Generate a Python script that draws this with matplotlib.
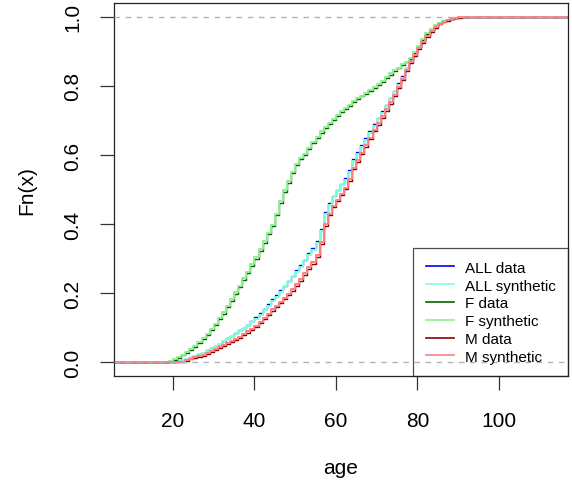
import numpy as np
import matplotlib
matplotlib.use('Agg')
from matplotlib import pyplot as plt

# ages where the empirical CDFs step (one step per year)
ages = list(range(18, 96))

# ALL data / ALL synthetic
all_data = [0.000, 0.001, 0.002, 0.003, 0.005, 0.009, 0.014, 0.019, 0.023, 0.028,
            0.034, 0.040, 0.047, 0.054, 0.062, 0.069, 0.077, 0.084, 0.092, 0.100,
            0.109, 0.119, 0.130, 0.142, 0.155, 0.168, 0.182, 0.195, 0.209, 0.222,
            0.236, 0.251, 0.266, 0.280, 0.297, 0.315, 0.330, 0.350, 0.386, 0.434,
            0.462, 0.482, 0.500, 0.517, 0.533, 0.557, 0.587, 0.608, 0.628, 0.648,
            0.669, 0.689, 0.708, 0.727, 0.746, 0.766, 0.786, 0.808, 0.828, 0.852,
            0.874, 0.894, 0.913, 0.931, 0.948, 0.961, 0.972, 0.981, 0.987, 0.992,
            0.995, 0.997, 0.999, 1.000, 1.000, 1.000, 1.000, 1.000]
all_syn = [0.000, 0.001, 0.001, 0.002, 0.004, 0.008, 0.013, 0.018, 0.021, 0.026,
           0.032, 0.038, 0.045, 0.052, 0.060, 0.067, 0.074, 0.081, 0.089, 0.097,
           0.106, 0.116, 0.126, 0.138, 0.151, 0.164, 0.178, 0.190, 0.204, 0.217,
           0.231, 0.246, 0.261, 0.275, 0.292, 0.310, 0.325, 0.344, 0.380, 0.428,
           0.456, 0.477, 0.495, 0.512, 0.528, 0.552, 0.582, 0.603, 0.623, 0.643,
           0.664, 0.684, 0.703, 0.722, 0.741, 0.761, 0.781, 0.804, 0.824, 0.848,
           0.871, 0.891, 0.910, 0.929, 0.946, 0.959, 0.970, 0.980, 0.986, 0.991,
           0.994, 0.997, 0.999, 1.000, 1.000, 1.000, 1.000, 1.000]

# F data / F synthetic
f_data = [0.000, 0.003, 0.007, 0.013, 0.020, 0.028, 0.036, 0.045, 0.055, 0.067,
          0.080, 0.093, 0.108, 0.124, 0.141, 0.159, 0.178, 0.198, 0.218, 0.238,
          0.258, 0.279, 0.300, 0.322, 0.346, 0.370, 0.394, 0.425, 0.462, 0.493,
          0.520, 0.547, 0.571, 0.587, 0.600, 0.616, 0.634, 0.649, 0.665, 0.678,
          0.690, 0.702, 0.713, 0.724, 0.733, 0.743, 0.753, 0.762, 0.770, 0.777,
          0.786, 0.795, 0.803, 0.812, 0.823, 0.833, 0.843, 0.851, 0.860, 0.868,
          0.879, 0.895, 0.912, 0.932, 0.950, 0.963, 0.973, 0.982, 0.987, 0.991,
          0.995, 0.998, 1.000, 1.000, 1.000, 1.000, 1.000, 1.000]
f_syn = [0.000, 0.004, 0.008, 0.015, 0.022, 0.030, 0.038, 0.048, 0.058, 0.070,
         0.083, 0.096, 0.112, 0.128, 0.145, 0.163, 0.183, 0.203, 0.222, 0.243,
         0.262, 0.283, 0.305, 0.328, 0.352, 0.375, 0.398, 0.430, 0.468, 0.498,
         0.525, 0.552, 0.575, 0.590, 0.603, 0.620, 0.638, 0.652, 0.668, 0.680,
         0.693, 0.705, 0.716, 0.726, 0.736, 0.746, 0.756, 0.764, 0.772, 0.780,
         0.789, 0.797, 0.806, 0.815, 0.826, 0.836, 0.845, 0.853, 0.862, 0.870,
         0.882, 0.898, 0.915, 0.935, 0.952, 0.965, 0.975, 0.983, 0.988, 0.992,
         0.996, 0.998, 1.000, 1.000, 1.000, 1.000, 1.000, 1.000]

# M data / M synthetic
m_data = [0.000, 0.000, 0.000, 0.000, 0.000, 0.004, 0.008, 0.012, 0.015, 0.019,
          0.024, 0.030, 0.035, 0.041, 0.047, 0.053, 0.059, 0.065, 0.071, 0.078,
          0.086, 0.094, 0.102, 0.113, 0.125, 0.137, 0.149, 0.160, 0.171, 0.182,
          0.194, 0.207, 0.221, 0.235, 0.252, 0.270, 0.285, 0.305, 0.342, 0.395,
          0.426, 0.448, 0.466, 0.484, 0.501, 0.526, 0.558, 0.580, 0.602, 0.624,
          0.646, 0.668, 0.688, 0.708, 0.728, 0.749, 0.770, 0.794, 0.816, 0.842,
          0.867, 0.887, 0.907, 0.925, 0.943, 0.956, 0.968, 0.978, 0.985, 0.989,
          0.993, 0.996, 0.998, 0.999, 1.000, 1.000, 1.000, 1.000]
m_syn = [0.000, 0.000, 0.000, 0.000, 0.002, 0.006, 0.010, 0.014, 0.017, 0.021,
         0.026, 0.032, 0.038, 0.044, 0.050, 0.056, 0.062, 0.068, 0.074, 0.081,
         0.089, 0.097, 0.106, 0.117, 0.129, 0.141, 0.153, 0.164, 0.175, 0.186,
         0.198, 0.212, 0.226, 0.240, 0.257, 0.275, 0.290, 0.310, 0.348, 0.400,
         0.430, 0.452, 0.470, 0.488, 0.505, 0.530, 0.563, 0.585, 0.606, 0.628,
         0.650, 0.672, 0.692, 0.712, 0.732, 0.753, 0.774, 0.798, 0.820, 0.845,
         0.870, 0.890, 0.910, 0.928, 0.945, 0.958, 0.970, 0.979, 0.986, 0.990,
         0.994, 0.997, 0.999, 1.000, 1.000, 1.000, 1.000, 1.000]

labels = ['ALL data', 'ALL synthetic', 'F data', 'F synthetic', 'M data', 'M synthetic']
colors = ['#0000FF', '#7FFFD4', '#006400', '#90EE90', '#8B0000', '#FF8080']
series = [all_data, all_syn, f_data, f_syn, m_data, m_syn]

plt.rcParams['font.family'] = ['Liberation Sans', 'DejaVu Sans']

fig = plt.figure(figsize=(5.72, 4.89), dpi=100)
ax = fig.add_axes([0.1993, 0.229, 0.7937, 0.7628])

x0, x1 = 5.5, 117
ax.set_xlim(x0, x1)
ax.set_ylim(-0.04, 1.04)

for i, (vals, col, lab) in enumerate(zip(series, colors, labels)):
    lw = 1.0 if i % 2 == 0 else 1.4
    # the ecdf runs out to the plot edges at 0 and 1
    xs = [x0] + ages + [x1]
    ys = [0.0] + vals + [vals[-1]]
    ax.step(xs, ys, where='post', color=col, lw=lw, label=lab)

ax.axhline(0, color='#B3B3B3', lw=1.0, ls=(0, (4, 4)), zorder=5)
ax.axhline(1, color='#B3B3B3', lw=1.0, ls=(0, (4, 4)), zorder=5)

ax.set_xticks([20, 40, 60, 80, 100])
ax.set_yticks([0.0, 0.2, 0.4, 0.6, 0.8, 1.0])
ax.set_yticklabels(['0.0', '0.2', '0.4', '0.6', '0.8', '1.0'], rotation=90, va='center')
ax.tick_params(axis='both', labelsize=15, length=10, width=0.9, color='#333333')
ax.tick_params(axis='x', pad=15)
ax.tick_params(axis='y', pad=13)
for s in ax.spines.values():
    s.set_linewidth(0.9)
    s.set_color('#222222')

ax.set_xlabel('age', fontsize=15, labelpad=20)
ax.set_ylabel('Fn(x)', fontsize=15, labelpad=19)

leg = ax.legend(loc='lower right', fontsize=11, frameon=True, fancybox=False,
                borderaxespad=0, borderpad=0.8, handlelength=1.85, handletextpad=0.72,
                labelspacing=0.25)
leg.get_frame().set_facecolor('none')
leg.get_frame().set_edgecolor('#222222')
leg.get_frame().set_linewidth(0.9)
for h in leg.get_lines():
    h.set_linewidth(1.2)

fig.savefig('out.png', dpi=100)
